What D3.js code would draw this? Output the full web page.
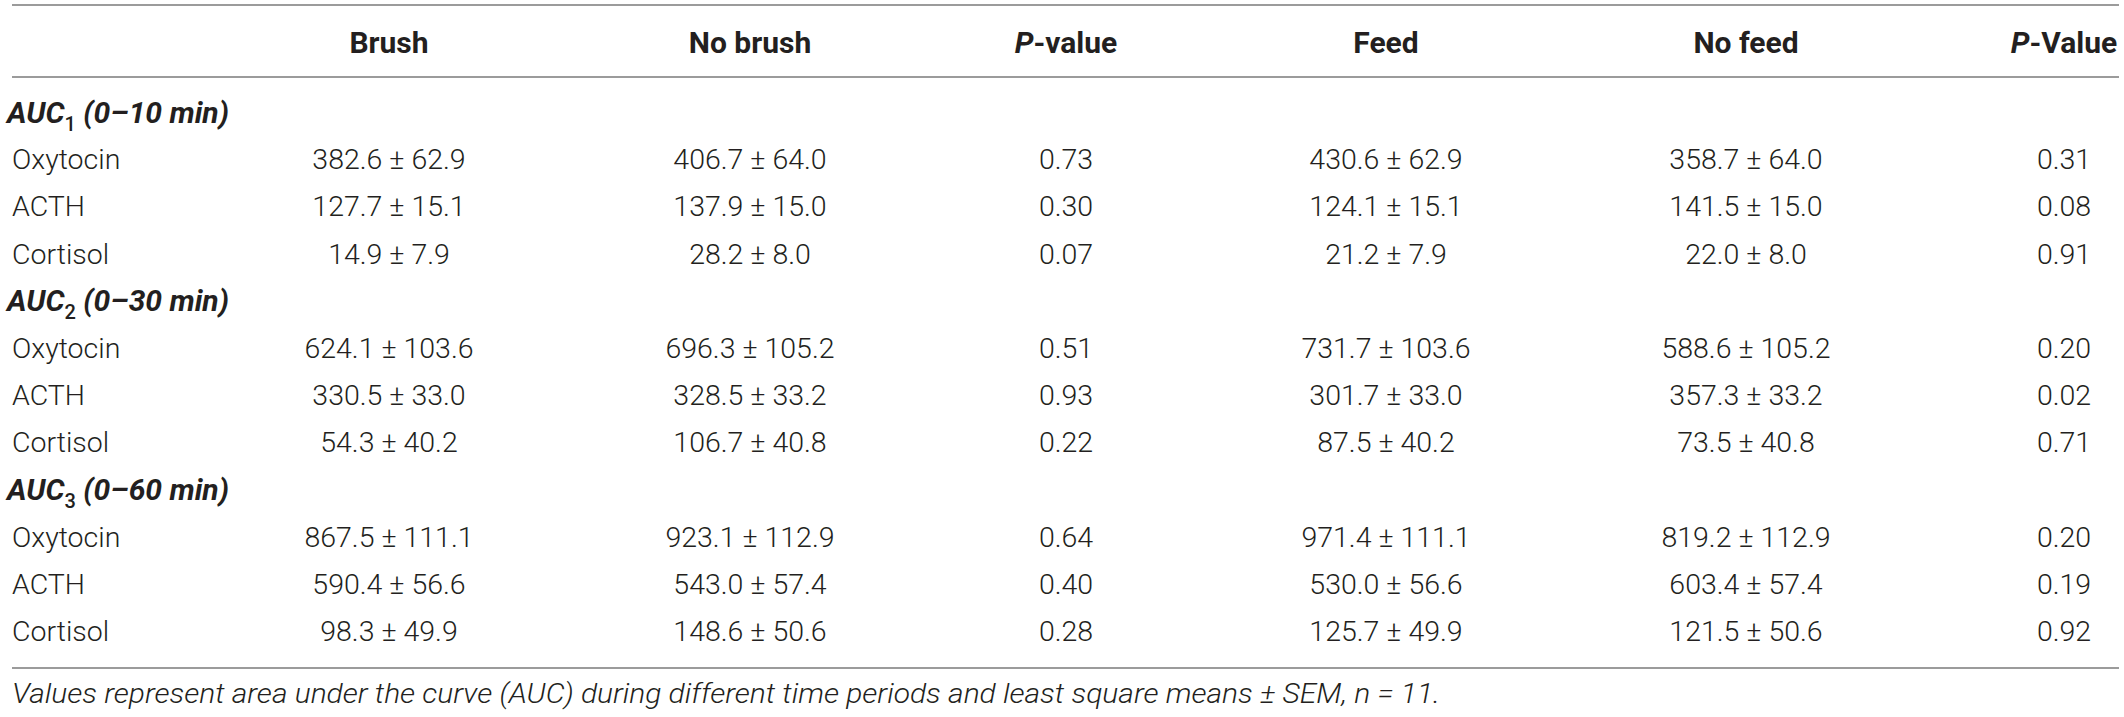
<!DOCTYPE html>
<html>
<head>
<meta charset="utf-8">
<script src="https://cdn.jsdelivr.net/npm/d3@7"></script>
<style>
  body { margin: 0; background: #fff; }
  svg { display: block; }
  text { fill: #231f20; font-family: Roboto, "Noto Sans", sans-serif; }
  .cell { font-weight: 300; font-size: 28.5px; }
  .head { font-weight: 700; font-size: 30px; }
  .section { font-weight: 700; font-style: italic; font-size: 30px; }
  .note { font-weight: 300; font-style: italic; font-size: 28px; }
</style>
</head>
<body>
<svg id="table"></svg>
<script>
const width = 2124;
const height = 717;

// column headers (italic part, plain part)
const columns = [
  { key: "brush", pre: "", label: "Brush" },
  { key: "nobrush", pre: "", label: "No brush" },
  { key: "p1", pre: "P", label: "-value" },
  { key: "feed", pre: "", label: "Feed" },
  { key: "nofeed", pre: "", label: "No feed" },
  { key: "p2", pre: "P", label: "-Value" }
];

const sections = [
  { sub: "1", range: " (0–10 min)" },
  { sub: "2", range: " (0–30 min)" },
  { sub: "3", range: " (0–60 min)" }
];
const hormones = ["Oxytocin", "ACTH", "Cortisol"];

// least square means ± SEM, per section then hormone
const brush = [
  ["382.6 ± 62.9", "127.7 ± 15.1", "14.9 ± 7.9"],
  ["624.1 ± 103.6", "330.5 ± 33.0", "54.3 ± 40.2"],
  ["867.5 ± 111.1", "590.4 ± 56.6", "98.3 ± 49.9"]
];
const noBrush = [
  ["406.7 ± 64.0", "137.9 ± 15.0", "28.2 ± 8.0"],
  ["696.3 ± 105.2", "328.5 ± 33.2", "106.7 ± 40.8"],
  ["923.1 ± 112.9", "543.0 ± 57.4", "148.6 ± 50.6"]
];
const pBrush = [
  ["0.73", "0.30", "0.07"],
  ["0.51", "0.93", "0.22"],
  ["0.64", "0.40", "0.28"]
];
const feed = [
  ["430.6 ± 62.9", "124.1 ± 15.1", "21.2 ± 7.9"],
  ["731.7 ± 103.6", "301.7 ± 33.0", "87.5 ± 40.2"],
  ["971.4 ± 111.1", "530.0 ± 56.6", "125.7 ± 49.9"]
];
const noFeed = [
  ["358.7 ± 64.0", "141.5 ± 15.0", "22.0 ± 8.0"],
  ["588.6 ± 105.2", "357.3 ± 33.2", "73.5 ± 40.8"],
  ["819.2 ± 112.9", "603.4 ± 57.4", "121.5 ± 50.6"]
];
const pFeed = [
  ["0.31", "0.08", "0.91"],
  ["0.20", "0.02", "0.71"],
  ["0.20", "0.19", "0.92"]
];
const footnote = "Values represent area under the curve (AUC) during different time periods and least square means ± SEM, n = 11.";

const series = { brush: brush, nobrush: noBrush, p1: pBrush, feed: feed, nofeed: noFeed, p2: pFeed };

// build the row list: a section title followed by its hormones
const rows = [];
sections.forEach(function(s, si) {
  rows.push({ id: "s" + si, type: "section", section: s });
  hormones.forEach(function(h, hi) {
    rows.push({ id: "r" + si + "_" + hi, type: "row", name: h, si: si, hi: hi });
  });
});

const svg = d3.select("#table").attr("width", width).attr("height", height);

const left = 12, right = 2119;
const x = d3.scaleOrdinal()
  .domain(columns.map(d => d.key))
  .range([389, 750, 1066, 1386, 1746, 2064]);
const y = d3.scalePoint()
  .domain(rows.map(d => d.id))
  .range([112, 631]);

// rules
svg.selectAll("line.rule")
  .data([5, 77, 668])
  .enter().append("line")
  .attr("class", "rule")
  .attr("x1", left).attr("x2", right)
  .attr("y1", d => d).attr("y2", d => d)
  .style("stroke", "#9b9b9b")
  .style("stroke-width", 2);

// header
const head = svg.selectAll("text.head")
  .data(columns)
  .enter().append("text")
  .attr("class", "head")
  .attr("x", d => x(d.key))
  .attr("y", 42)
  .attr("dy", "0.35em")
  .attr("text-anchor", "middle");
head.filter(d => d.pre).append("tspan").style("font-style", "italic").text(d => d.pre);
head.append("tspan").text(d => d.label);

// section titles
const sec = svg.selectAll("text.section")
  .data(rows.filter(d => d.type === "section"))
  .enter().append("text")
  .attr("class", "section")
  .attr("x", 7)
  .attr("y", d => y(d.id))
  .attr("dy", "0.35em");
sec.append("tspan").text("AUC");
sec.append("tspan")
  .attr("dy", 8)
  .style("font-size", "20px")
  .style("font-style", "normal")
  .style("font-weight", 500)
  .text(d => d.section.sub);
sec.append("tspan")
  .attr("dy", -8)
  .text(d => d.section.range);

// hormone rows
const dataRows = rows.filter(d => d.type === "row");
svg.selectAll("text.name")
  .data(dataRows)
  .enter().append("text")
  .attr("class", "cell name")
  .attr("x", left)
  .attr("y", d => y(d.id))
  .attr("dy", "0.35em")
  .text(d => d.name);

const cells = [];
dataRows.forEach(function(r) {
  columns.forEach(function(c) {
    cells.push({ row: r.id, col: c.key, value: series[c.key][r.si][r.hi] });
  });
});

svg.selectAll("text.value")
  .data(cells)
  .enter().append("text")
  .attr("class", "cell value")
  .attr("x", d => x(d.col))
  .attr("y", d => y(d.row))
  .attr("dy", "0.35em")
  .attr("text-anchor", "middle")
  .text(d => d.value);

// footnote, squeezed to the width it takes in the source
svg.append("text")
  .attr("class", "note")
  .attr("x", left)
  .attr("y", 693)
  .attr("dy", "0.35em")
  .attr("textLength", 1440 - left)
  .attr("lengthAdjust", "spacingAndGlyphs")
  .text(footnote);
</script>
</body>
</html>
